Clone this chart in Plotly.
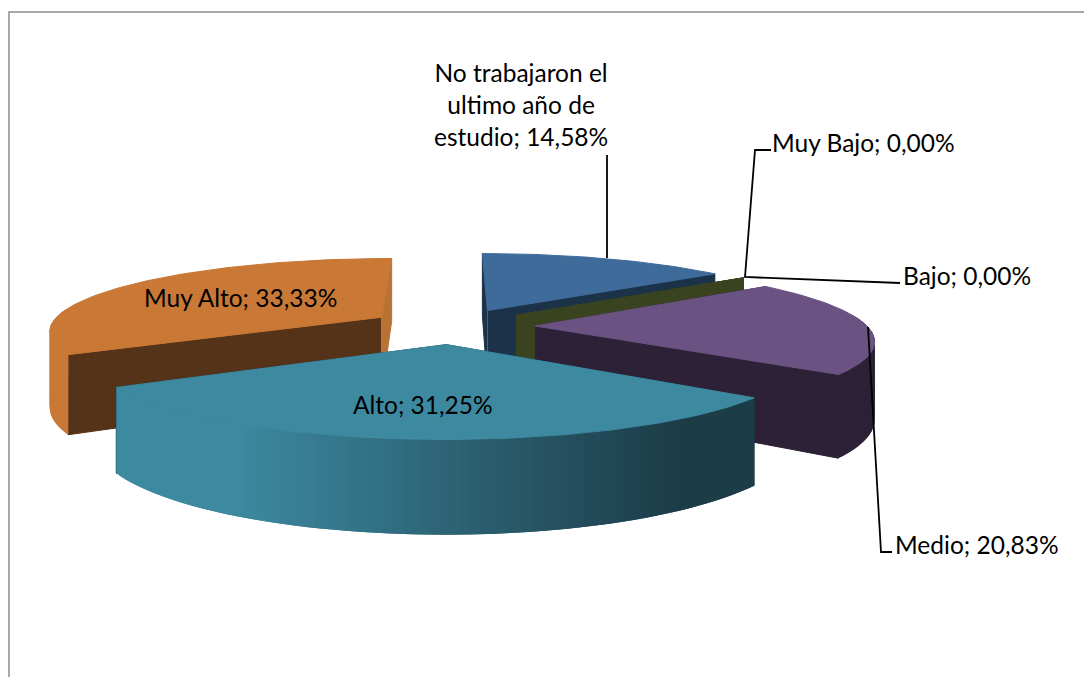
import numpy as np
import plotly.graph_objects as go

categorias = ["No trabajaron el<br>ultimo año de<br>estudio", "Muy Bajo", "Bajo", "Medio", "Alto", "Muy Alto"]
valores = [14.58, 0.00, 0.00, 20.83, 31.25, 33.33]

colores_top = ["#3F6B9B", "#3A431F", "#3A431F", "#6A5282", "#3D89A0", "#C97836"]
colores_recta = ["#1B3249", "#3A431F", "#3A431F", "#2C2136", "#1C3C48", "#553318"]
colores_curva = ["#1B3249", "#3A431F", "#3A431F", "#2C2136", "#3D89A0", "#C97836"]

# proyeccion del pastel 3D sobre pixeles
cx, cy = 452, 326
radio_x, radio_y = 332, 71.5
alto_pastel = 75
persp = 0.17
explode = 0.25


def proy(x, v, z=0):
    s = 1 / (1 - persp * v)
    return cx + radio_x * x * s, cy + radio_y * v * s + alto_pastel * z * s


def poly(fig, xs, ys, color, ancho=1):
    fig.add_trace(go.Scatter(x=xs, y=ys, mode="lines", fill="toself", fillcolor=color,
                             line=dict(color=color, width=ancho), hoverinfo="skip", showlegend=False))


def mezcla(c1, c2, t):
    a = [int(c1[i:i + 2], 16) for i in (1, 3, 5)]
    b = [int(c2[i:i + 2], 16) for i in (1, 3, 5)]
    return "rgb(%d,%d,%d)" % tuple(round(p + (q - p) * t) for p, q in zip(a, b))


fig = go.Figure()

total = sum(valores)
inicios = np.cumsum([0] + valores[:-1]) / total * 2 * np.pi
finales = np.cumsum(valores) / total * 2 * np.pi

# de atras hacia adelante
for i in [5, 0, 1, 2, 3, 4]:
    a0, a1 = inicios[i], finales[i]
    mid = (a0 + a1) / 2
    ox, ov = explode * np.sin(mid), -explode * np.cos(mid)

    # paredes rectas
    for ang in (a0, a1):
        rx, rv = ox + np.sin(ang), ov - np.cos(ang)
        px = [proy(ox, ov)[0], proy(rx, rv)[0], proy(rx, rv, 1)[0], proy(ox, ov, 1)[0]]
        py = [proy(ox, ov)[1], proy(rx, rv)[1], proy(rx, rv, 1)[1], proy(ox, ov, 1)[1]]
        color = colores_recta[i]
        if i == 5 and ang == a1:
            color = "#B87233"
        poly(fig, px, py, color)

    if a1 == a0:
        continue

    # pared curva, solo la parte que mira al frente
    angs = np.linspace(a0, a1, 90)
    for k in range(1, len(angs)):
        a, b = angs[max(k - 2, 0)], angs[k]
        if -np.cos(b) < -0.15:
            continue
        xa, va = ox + np.sin(a), ov - np.cos(a)
        xb, vb = ox + np.sin(b), ov - np.cos(b)
        pa, pb = proy(xa, va), proy(xb, vb)
        qa, qb = proy(xa, va, 1), proy(xb, vb, 1)
        color = colores_curva[i]
        if i == 4:
            t = np.clip((pa[0] - 240) / 440, 0, 1)
            color = mezcla(colores_curva[i], colores_recta[i], t)
        poly(fig, [pa[0], pb[0], qb[0], qa[0]], [pa[1], pb[1], qb[1], qa[1]], color, ancho=0)

    # cara superior
    tx, tv = ox + np.sin(angs), ov - np.cos(angs)
    sx, sy = proy(tx, tv)
    ax, ay = proy(ox, ov)
    poly(fig, np.r_[ax, sx, ax], np.r_[ay, sy, ay], colores_top[i])

etiquetas = ["%s; %s%%" % (c, ("%.2f" % v).replace(".", ",")) for c, v in zip(categorias, valores)]
pos_texto = [(521, 104), (863, 142), (967, 275), (977, 544), (423, 404), (240, 297)]
for t, (x, y) in zip(etiquetas, pos_texto):
    fig.add_annotation(x=x, y=y, text=t, showarrow=False, xanchor="center", yanchor="middle",
                       font=dict(family="Lato", size=24.5, color="#000000"))

lideres = [[(607, 155), (607, 258)],
           [(771, 150), (755, 150), (745, 277), (900, 283)],
           [(868, 327), (881, 552), (892, 552)]]
for l in lideres:
    ruta = "M " + " L ".join("%d %d" % p for p in l)
    fig.add_shape(type="path", path=ruta, line=dict(color="#000000", width=1.8))

# borde del grafico
fig.add_shape(type="path", path="M 9 680 L 9 12 L 1095 12", line=dict(color="#8C8C8C", width=1.5))

# el body de la pagina deja 8 px arriba y a la izquierda
fig.update_xaxes(range=[8, 1092], visible=False)
fig.update_yaxes(range=[677, 8], visible=False)
fig.update_layout(width=1084, height=669, margin=dict(l=0, r=0, t=0, b=0),
                  paper_bgcolor="white", plot_bgcolor="white", showlegend=False)

fig.write_html("out.html")
